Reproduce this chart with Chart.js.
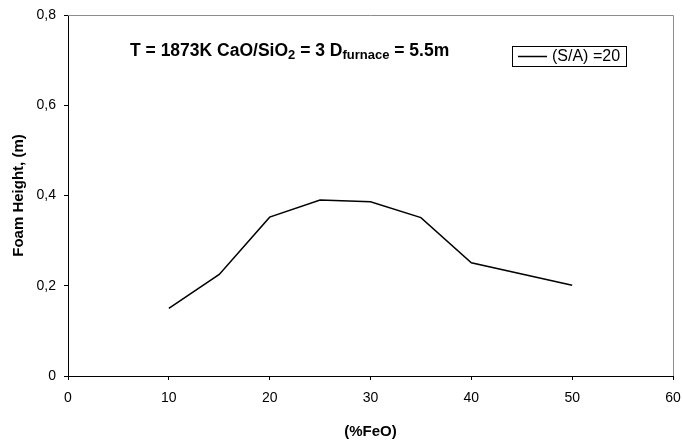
<!DOCTYPE html>
<html>
<head>
<meta charset="utf-8">
<script src="https://cdn.jsdelivr.net/npm/chart.js@4.4.1/dist/chart.umd.min.js"></script>
<style>
  html, body { margin: 0; padding: 0; background: #fff; }
  #wrap { width: 682px; height: 442px; }
</style>
</head>
<body>
<div id="wrap"><canvas id="foam" width="682" height="442"></canvas></div>
<script>
const feo = [10, 15, 20, 25, 30, 35, 40, 50];
const foamHeight = [0.15, 0.225, 0.352, 0.39, 0.386, 0.351, 0.251, 0.201];
const seriesLabel = '(S/A) =20';
const xTicks = [0, 10, 20, 30, 40, 50, 60];
const yTicks = [0, 0.2, 0.4, 0.6, 0.8];

const FONT = "Arial, 'Liberation Sans', sans-serif";

// plot frame (gray top/right border) + title + legend box
const extras = {
  id: 'extras',
  beforeDatasetsDraw(chart) {
    const {ctx, chartArea: a} = chart;
    ctx.save();
    ctx.strokeStyle = '#8c8c8c';
    ctx.lineWidth = 1;
    ctx.beginPath();
    ctx.moveTo(a.left, a.top + 0.5);
    ctx.lineTo(a.right + 0.5, a.top + 0.5);
    ctx.lineTo(a.right + 0.5, a.bottom);
    ctx.stroke();
    ctx.restore();
  },
  afterDraw(chart) {
    const ctx = chart.ctx;
    ctx.save();
    // title with subscripts
    const parts = [
      ['T = 1873K CaO/SiO', false], ['2', true], [' = 3 D', false],
      ['furnace', true], [' = 5.5m', false]
    ];
    let x = 130;
    const base = 56;
    ctx.fillStyle = '#000';
    ctx.textBaseline = 'alphabetic';
    ctx.textAlign = 'left';
    parts.forEach(([t, sub]) => {
      ctx.font = 'bold ' + (sub ? '13px ' : '17.5px ') + FONT;
      ctx.fillText(t, x, sub ? base + 3 : base);
      x += ctx.measureText(t).width;
    });

    // legend
    const lx = 512, ly = 46, lw = 114, lh = 20;
    ctx.strokeStyle = '#000';
    ctx.lineWidth = 1;
    ctx.strokeRect(lx + 0.5, ly + 0.5, lw, lh);
    ctx.lineWidth = 1.5;
    ctx.beginPath();
    ctx.moveTo(lx + 6, ly + 10.5);
    ctx.lineTo(lx + 35, ly + 10.5);
    ctx.stroke();
    ctx.font = '16px ' + FONT;
    ctx.textBaseline = 'middle';
    ctx.fillText(seriesLabel, lx + 40, ly + 11);
    ctx.restore();
  }
};

new Chart(document.getElementById('foam'), {
  type: 'line',
  data: {
    datasets: [{
      label: seriesLabel,
      data: feo.map((v, i) => ({x: v, y: foamHeight[i]})),
      borderColor: '#000',
      borderWidth: 1.5,
      pointRadius: 0,
      tension: 0,
      fill: false
    }]
  },
  options: {
    responsive: false,
    animation: false,
    devicePixelRatio: 1,
    layout: { padding: { top: 15, right: 9, left: 0, bottom: 0 } },
    plugins: { legend: { display: false }, tooltip: { enabled: false } },
    scales: {
      x: {
        type: 'linear',
        min: 0, max: 60,
        afterBuildTicks: s => { s.ticks = xTicks.map(v => ({value: v})); },
        afterFit: s => { s.height = 66; s.paddingLeft = 0; s.paddingRight = 0; },
        grid: { drawOnChartArea: false, drawTicks: true, tickLength: 4, color: '#000' },
        border: { color: '#000', width: 1 },
        ticks: { color: '#000', padding: 10, maxRotation: 0, font: { family: FONT, size: 14 } },
        title: { display: true, text: '(%FeO)', color: '#000', padding: { top: 4, bottom: 1 },
                 font: { family: FONT, size: 15, weight: 'bold' } }
      },
      y: {
        min: 0, max: 0.8,
        afterBuildTicks: s => { s.ticks = yTicks.map(v => ({value: v})); },
        afterFit: s => { s.width = 68; s.paddingTop = 0; s.paddingBottom = 0; },
        grid: { drawOnChartArea: false, drawTicks: true, tickLength: 4, color: '#000' },
        border: { color: '#000', width: 1 },
        ticks: {
          color: '#000', padding: 8, font: { family: FONT, size: 14 },
          callback: v => v === 0 ? '0' : v.toFixed(1).replace('.', ',')
        },
        title: { display: true, text: 'Foam Height, (m)', color: '#000', padding: { top: 10, bottom: 0 },
                 font: { family: FONT, size: 15, weight: 'bold' } }
      }
    }
  },
  plugins: [extras]
});
</script>
</body>
</html>
